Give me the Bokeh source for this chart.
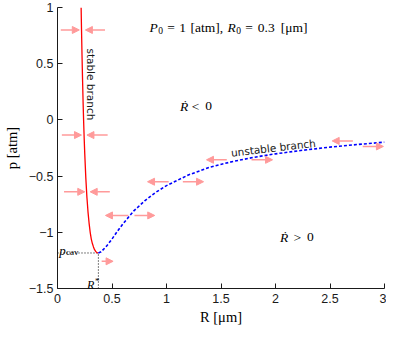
import math
from bokeh.plotting import figure
from bokeh.models import Range1d, FixedTicker, Arrow, NormalHead, ColumnDataSource, Label
from bokeh.embed import file_html
from bokeh.resources import INLINE

# ---- data ----
stable_R = [0.2167, 0.22, 0.225, 0.23, 0.235, 0.24, 0.245, 0.25, 0.26, 0.27,
            0.28, 0.29, 0.30, 0.31, 0.32, 0.33, 0.34, 0.35, 0.36, 0.375]
stable_p = [1.0, 0.82, 0.57, 0.35, 0.15, -0.02, -0.17, -0.30, -0.52, -0.69,
            -0.82, -0.92, -1.00, -1.06, -1.10, -1.13, -1.155, -1.17, -1.18, -1.184]

unstable_R = [0.375, 0.40, 0.45, 0.50, 0.55, 0.60, 0.70, 0.80, 0.90, 1.00,
              1.20, 1.40, 1.60, 1.80, 2.00, 2.25, 2.50, 2.75, 3.00]
unstable_p = [-1.184, -1.174, -1.123, -1.06, -0.99, -0.925, -0.81, -0.72, -0.645, -0.585,
              -0.49, -0.42, -0.372, -0.333, -0.302, -0.27, -0.242, -0.219, -0.198]

R_star = 0.375
p_cav = -1.184

arrow_y = [0.8, 0.8, -0.135, -0.135, -0.64, -0.64, -0.85, -0.85,
           -0.55, -0.55, -0.355, -0.355, -0.187, -0.236, -1.258]
arrow_x0 = [0.03, 0.436, 0.04, 0.46, 0.06, 0.48, 0.65, 0.706,
            1.02, 1.15, 1.553, 1.78, 2.71, 2.80, 0.405]
arrow_x1 = [0.20, 0.256, 0.22, 0.27, 0.25, 0.30, 0.44, 0.892,
            0.826, 1.34, 1.367, 1.973, 2.52, 2.99, 0.51]

x_ticks = [0, 0.5, 1, 1.5, 2, 2.5, 3]
x_tick_labels = ["0", "0.5", "1", "1.5", "2", "2.5", "3"]
y_ticks = [-1.5, -1, -0.5, 0, 0.5, 1]
y_tick_labels = ["\u22121.5", "\u22121", "\u22120.5", "0", "0.5", "1"]

SERIF = "Liberation Serif"
SANS = "Liberation Sans"
INK = "#1a1a1a"
ARROW_COL = "#ff9a9a"

p = figure(width=386, height=328, x_range=Range1d(0, 3), y_range=Range1d(-1.5, 1),
           output_backend="svg", toolbar_location=None,
           min_border_left=56, min_border_right=2, min_border_top=7, min_border_bottom=40)
p.outline_line_color = None
p.xgrid.visible = False
p.ygrid.visible = False
p.background_fill_color = "white"
p.border_fill_color = "white"

for ax, ticks, labels in ((p.xaxis[0], x_ticks, x_tick_labels), (p.yaxis[0], y_ticks, y_tick_labels)):
    ax.ticker = FixedTicker(ticks=ticks)
    ax.major_label_overrides = {t: l for t, l in zip(ticks, labels)}
    ax.major_tick_in = 5
    ax.major_tick_out = 0
    ax.minor_tick_line_color = None
    ax.axis_line_color = INK
    ax.major_tick_line_color = INK
    ax.major_label_text_font = SANS
    ax.major_label_text_font_size = "12.5px"
    ax.major_label_text_color = INK
    ax.major_label_standoff = 5
    ax.axis_label_text_font = SERIF
    ax.axis_label_text_font_size = "14.5px"
    ax.axis_label_text_font_style = "normal"
    ax.axis_label_text_color = "black"
p.yaxis.major_label_standoff = 4
p.xaxis.axis_label = "R [\u03bcm]"
p.yaxis.axis_label = "p [atm]"
p.xaxis.axis_label_standoff = 3
p.yaxis.axis_label_standoff = 6

# arrows
src = ColumnDataSource(dict(x0=arrow_x0, x1=arrow_x1, y=arrow_y))
p.add_layout(Arrow(end=NormalHead(size=7, fill_color=ARROW_COL, line_color=ARROW_COL),
                   x_start="x0", y_start="y", x_end="x1", y_end="y", source=src,
                   line_color=ARROW_COL, line_width=1.5))

# dotted guides
p.line([0, R_star], [p_cav, p_cav], line_color="black", line_dash="1 2", line_width=1)
p.line([R_star, R_star], [-1.5, p_cav], line_color="black", line_dash="1 2", line_width=1)

# branches
p.line(stable_R, stable_p, line_color="#ff0000", line_width=1.3)
p.line(unstable_R, unstable_p, line_color="#0000ff", line_width=1.6, line_dash="3 2")


def piece(text, x, y, size=13, italic=False, angle=0.0, font=SERIF, color="black",
          baseline="alphabetic"):
    p.add_layout(Label(x=x, y=y, text=text, text_font=font, text_font_size=f"{size}px",
                       text_font_style="italic" if italic else "normal", text_color=color,
                       text_baseline=baseline, text_align="left", angle=angle))


# P0 = 1 [atm], R0 = 0.3 [um]
piece("P", 0.844, 0.822, size=13.5, italic=True)
piece("0", 0.924, 0.799, size=9.5)
piece("=", 1.006, 0.822, size=13.5)
piece("1", 1.116, 0.822, size=13.5)
piece("[atm],", 1.221, 0.822, size=13.5)
piece("R", 1.559, 0.822, size=13.5, italic=True)
piece("0", 1.639, 0.799, size=9.5)
piece("=", 1.722, 0.822, size=13.5)
piece("0.3", 1.838, 0.822, size=13.5)
piece("[\u03bcm]", 2.049, 0.822, size=13.5)

# Rdot < 0 , Rdot > 0
piece("\u1e58", 1.123, 0.122, size=13.5, italic=True)
piece("<", 1.232, 0.122, size=13.5)
piece("0", 1.355, 0.122, size=13.5)
piece("\u1e58", 2.042, -1.044, size=13.5, italic=True)
piece(">", 2.164, -1.044, size=13.5)
piece("0", 2.29, -1.044, size=13.5)

# p_cav and R*
piece("p", 0.015, -1.159, italic=True)
piece("cav", 0.078, -1.175, size=9)
piece("R", 0.27, -1.465, size=12, italic=True)
piece("*", 0.345, -1.43, size=9)

# branch labels
piece("stable branch", 0.31, 0.636, size=10.5, angle=-math.pi / 2, font="DejaVu Sans",
      color=INK, baseline="middle")
piece("unstable branch", 1.592, -0.292, size=10.5, angle=0.115, font="DejaVu Sans", color=INK)

open("out.html", "w").write(file_html(p, INLINE))
